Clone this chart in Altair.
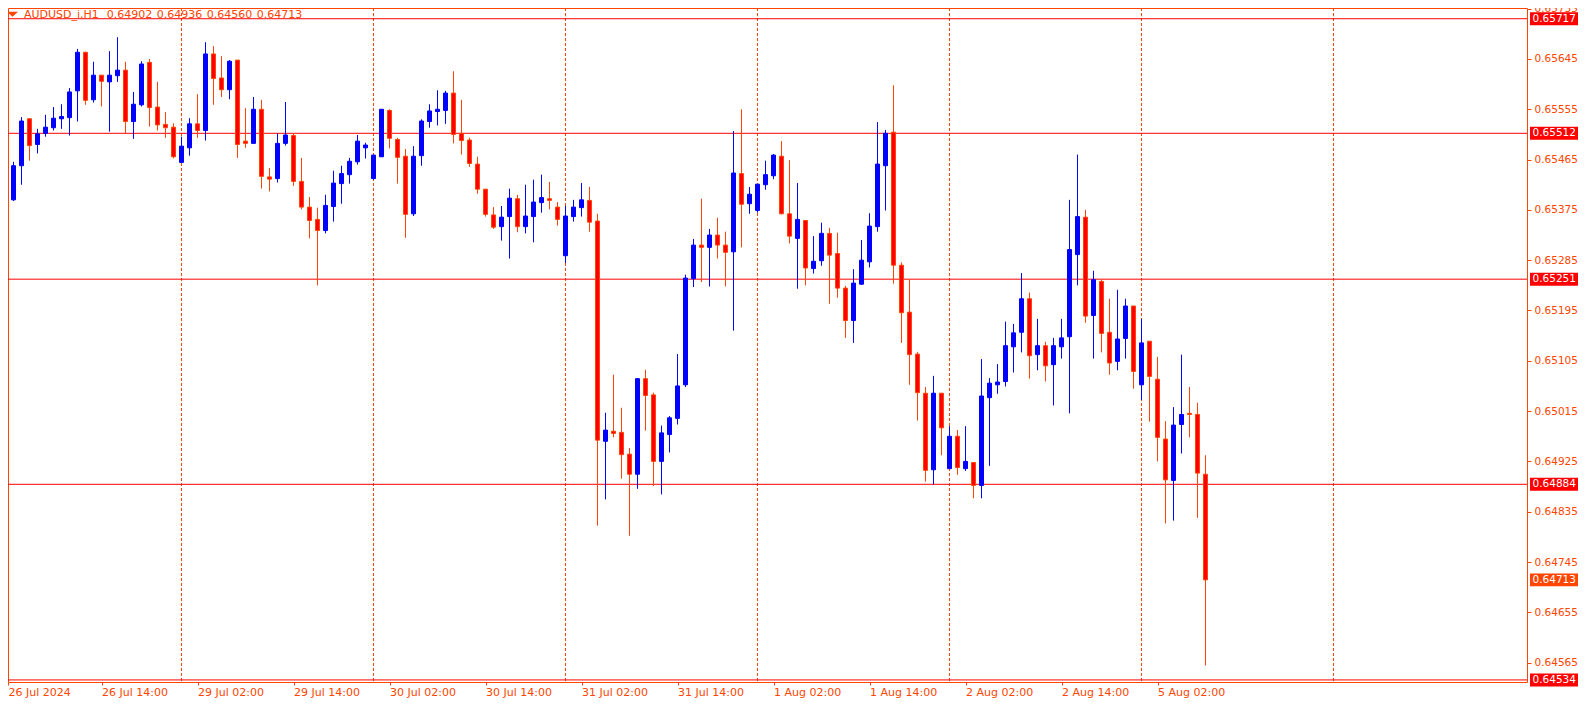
import json
import altair as alt
import pandas as pd

# ---------------- data ----------------
OPEN = [0.65347, 0.65393, 0.65454, 0.65538, 0.65492, 0.65512, 0.65522, 0.65538, 0.65540, 0.65588,
        0.65657, 0.65572, 0.65616, 0.65604, 0.65615, 0.65625, 0.65533, 0.65563, 0.65639, 0.65559,
        0.65528, 0.65523, 0.65460, 0.65486, 0.65529, 0.65517, 0.65654, 0.65611, 0.65590, 0.65643,
        0.65498, 0.65494, 0.65555, 0.65434, 0.65431, 0.65494, 0.65508, 0.65426, 0.65380, 0.65358,
        0.65338, 0.65381, 0.65422, 0.65438, 0.65461, 0.65486, 0.65431, 0.65470, 0.65553, 0.65501,
        0.65471, 0.65368, 0.65472, 0.65533, 0.65551, 0.65553, 0.65584, 0.65512, 0.65500, 0.65457,
        0.65412, 0.65366, 0.65345, 0.65363, 0.65395, 0.65345, 0.65363, 0.65388, 0.65395, 0.65380,
        0.65293, 0.65363, 0.65379, 0.65392, 0.65355, 0.64961, 0.64979, 0.64977, 0.64938, 0.64902,
        0.65073, 0.65044, 0.64925, 0.64973, 0.65002, 0.65062, 0.65252, 0.65312, 0.65308, 0.65330,
        0.65312, 0.65300, 0.65440, 0.65386, 0.65374, 0.65420, 0.65436, 0.65471, 0.65368, 0.65324,
        0.65356, 0.65270, 0.65284, 0.65333, 0.65297, 0.65235, 0.65177, 0.65242, 0.65282, 0.65345,
        0.65454, 0.65514, 0.65276, 0.65192, 0.65117, 0.65047, 0.64910, 0.65047, 0.64912, 0.64970,
        0.64912, 0.64923, 0.64882, 0.65039, 0.65062, 0.65068, 0.65130, 0.65156, 0.65216, 0.65116,
        0.65132, 0.65098, 0.65130, 0.65148, 0.65295, 0.65362, 0.65186, 0.65247, 0.65156, 0.65104,
        0.65145, 0.65203, 0.65062, 0.65140, 0.65072, 0.64965, 0.64891, 0.64991, 0.65011, 0.65009,
        0.64902]
HIGH = [0.65398, 0.65461, 0.65541, 0.65539, 0.65520, 0.65545, 0.65559, 0.65564, 0.65593, 0.65663,
        0.65658, 0.65640, 0.65616, 0.65659, 0.65684, 0.65640, 0.65586, 0.65641, 0.65645, 0.65604,
        0.65550, 0.65530, 0.65506, 0.65539, 0.65582, 0.65675, 0.65668, 0.65650, 0.65643, 0.65643,
        0.65557, 0.65577, 0.65572, 0.65450, 0.65512, 0.65568, 0.65512, 0.65468, 0.65398, 0.65379,
        0.65402, 0.65445, 0.65454, 0.65468, 0.65509, 0.65495, 0.65474, 0.65555, 0.65555, 0.65504,
        0.65484, 0.65489, 0.65537, 0.65564, 0.65589, 0.65588, 0.65623, 0.65572, 0.65504, 0.65470,
        0.65412, 0.65380, 0.65382, 0.65413, 0.65402, 0.65420, 0.65429, 0.65438, 0.65425, 0.65389,
        0.65382, 0.65393, 0.65423, 0.65416, 0.65368, 0.65012, 0.65080, 0.65021, 0.64949, 0.65074,
        0.65089, 0.65048, 0.64989, 0.65006, 0.65117, 0.65259, 0.65323, 0.65395, 0.65341, 0.65361,
        0.65336, 0.65516, 0.65555, 0.65416, 0.65421, 0.65463, 0.65475, 0.65498, 0.65464, 0.65423,
        0.65356, 0.65328, 0.65352, 0.65343, 0.65334, 0.65239, 0.65269, 0.65321, 0.65369, 0.65532,
        0.65518, 0.65598, 0.65281, 0.65251, 0.65121, 0.65058, 0.65078, 0.65047, 0.64988, 0.64981,
        0.64988, 0.64923, 0.65108, 0.65074, 0.65099, 0.65175, 0.65171, 0.65262, 0.65227, 0.65180,
        0.65139, 0.65146, 0.65180, 0.65393, 0.65474, 0.65375, 0.65266, 0.65251, 0.65216, 0.65232,
        0.65216, 0.65203, 0.65180, 0.65140, 0.65112, 0.64997, 0.65022, 0.65116, 0.65058, 0.65030,
        0.64936]
LOW = [0.65336, 0.65391, 0.65420, 0.65463, 0.65476, 0.65506, 0.65517, 0.65520, 0.65508, 0.65533,
       0.65563, 0.65567, 0.65560, 0.65515, 0.65604, 0.65512, 0.65502, 0.65560, 0.65524, 0.65517,
       0.65504, 0.65467, 0.65460, 0.65472, 0.65504, 0.65499, 0.65563, 0.65577, 0.65573, 0.65468,
       0.65486, 0.65494, 0.65413, 0.65408, 0.65424, 0.65490, 0.65418, 0.65376, 0.65324, 0.65240,
       0.65333, 0.65354, 0.65386, 0.65422, 0.65456, 0.65467, 0.65429, 0.65470, 0.65485, 0.65422,
       0.65325, 0.65364, 0.65454, 0.65522, 0.65526, 0.65529, 0.65494, 0.65474, 0.65452, 0.65404,
       0.65363, 0.65341, 0.65320, 0.65288, 0.65335, 0.65333, 0.65317, 0.65370, 0.65376, 0.65347,
       0.65280, 0.65354, 0.65363, 0.65336, 0.64810, 0.64857, 0.64968, 0.64894, 0.64792, 0.64876,
       0.64980, 0.64881, 0.64866, 0.64941, 0.64991, 0.65058, 0.65237, 0.65246, 0.65238, 0.65288,
       0.65238, 0.65159, 0.65308, 0.65368, 0.65370, 0.65411, 0.65430, 0.65367, 0.65315, 0.65234,
       0.65240, 0.65261, 0.65275, 0.65207, 0.65218, 0.65146, 0.65137, 0.65241, 0.65272, 0.65336,
       0.65374, 0.65243, 0.65137, 0.65062, 0.64998, 0.64889, 0.64884, 0.64936, 0.64912, 0.64901,
       0.64908, 0.64859, 0.64859, 0.64917, 0.65046, 0.65059, 0.65084, 0.65120, 0.65073, 0.65088,
       0.65068, 0.65025, 0.65109, 0.65011, 0.65240, 0.65173, 0.65109, 0.65120, 0.65080, 0.65088,
       0.65109, 0.65055, 0.65035, 0.64996, 0.64925, 0.64814, 0.64819, 0.64939, 0.64968, 0.64824,
       0.64560]
CLOSE = [0.65393, 0.65454, 0.65534, 0.65490, 0.65511, 0.65523, 0.65539, 0.65542, 0.65586, 0.65657,
         0.65571, 0.65616, 0.65605, 0.65616, 0.65625, 0.65533, 0.65564, 0.65636, 0.65558, 0.65527,
         0.65522, 0.65470, 0.65489, 0.65529, 0.65517, 0.65654, 0.65610, 0.65590, 0.65641, 0.65492,
         0.65494, 0.65555, 0.65435, 0.65430, 0.65494, 0.65509, 0.65426, 0.65380, 0.65356, 0.65338,
         0.65383, 0.65423, 0.65440, 0.65462, 0.65498, 0.65491, 0.65473, 0.65555, 0.65503, 0.65469,
         0.65367, 0.65471, 0.65534, 0.65552, 0.65555, 0.65584, 0.65510, 0.65499, 0.65458, 0.65412,
         0.65367, 0.65344, 0.65362, 0.65396, 0.65345, 0.65364, 0.65389, 0.65397, 0.65392, 0.65358,
         0.65364, 0.65380, 0.65393, 0.65353, 0.64963, 0.64981, 0.64975, 0.64937, 0.64902, 0.65073,
         0.65043, 0.64925, 0.64976, 0.65003, 0.65060, 0.65253, 0.65312, 0.65308, 0.65330, 0.65312,
         0.65299, 0.65441, 0.65385, 0.65403, 0.65421, 0.65438, 0.65473, 0.65368, 0.65328, 0.65358,
         0.65271, 0.65283, 0.65333, 0.65294, 0.65235, 0.65177, 0.65244, 0.65285, 0.65346, 0.65457,
         0.65512, 0.65276, 0.65191, 0.65116, 0.65048, 0.64909, 0.65047, 0.64985, 0.64970, 0.64914,
         0.64925, 0.64882, 0.65042, 0.65065, 0.65067, 0.65132, 0.65155, 0.65216, 0.65114, 0.65132,
         0.65096, 0.65132, 0.65146, 0.65304, 0.65363, 0.65185, 0.65250, 0.65154, 0.65101, 0.65144,
         0.65203, 0.65086, 0.65137, 0.65077, 0.64968, 0.64892, 0.64990, 0.65009, 0.65009, 0.64904,
         0.64713]

TIME_LABELS = ["26 Jul 2024", "26 Jul 14:00", "29 Jul 02:00", "29 Jul 14:00", "30 Jul 02:00",
               "30 Jul 14:00", "31 Jul 02:00", "31 Jul 14:00", "1 Aug 02:00", "1 Aug 14:00",
               "2 Aug 02:00", "2 Aug 14:00", "5 Aug 02:00"]
LABEL_STEP = 12
DAY_SEPARATORS = [22, 46, 70, 94, 118, 142, 166]
Y_TICKS = [0.65735, 0.65645, 0.65555, 0.65465, 0.65375, 0.65285, 0.65195, 0.65105,
           0.65015, 0.64925, 0.64835, 0.64745, 0.64655, 0.64565]
LEVELS = [0.65717, 0.65512, 0.65251, 0.64884, 0.64534]
LAST_PRICE = [0.64713]
TITLE_SYMBOL = "AUDUSD_i,H1"
TITLE_OHLC = ["0.64902", "0.64936", "0.64560", "0.64713"]

# ---------------- layout / style ----------------
W, H = 1519, 674
PAD_RIGHT, PAD_BOTTOM = 51, 16
X_DOMAIN = [0.3125, 0.3125 + W / 8]
Y_DOMAIN = [0.645303, 0.657362]
BOX_HALF = 0.000116
FONT = "DejaVu Sans"
ORANGE = "#FF4500"
RED = "#FF0000"
BLUE = "#0000FF"

df = pd.DataFrame({"i": range(len(OPEN)), "open": OPEN, "high": HIGH, "low": LOW, "close": CLOSE})
df["dir"] = ["up" if c >= o else "down" for o, c in zip(OPEN, CLOSE)]
seps = pd.DataFrame({"i": DAY_SEPARATORS})
levels = pd.DataFrame({"p": LEVELS})
last = pd.DataFrame({"p": LAST_PRICE})
one = pd.DataFrame({"k": [0]})

label_expr = f"{json.dumps(TIME_LABELS)}[round(datum.value / {LABEL_STEP})]"
x_vals = [X_DOMAIN[0]] + [LABEL_STEP * k for k in range(1, len(TIME_LABELS))]

XSCALE = alt.Scale(domain=X_DOMAIN, nice=False, zero=False, padding=0)
YSCALE = alt.Scale(domain=Y_DOMAIN, nice=False, zero=False, padding=0)
XAXIS = alt.Axis(values=x_vals, labelExpr=label_expr, title=None, grid=False, domain=False,
                 labelAlign="left", labelAngle=0, labelBaseline="top", labelFlush=False,
                 labelOverlap=False, labelPadding=1, tickSize=3, tickColor=ORANGE,
                 labelColor=ORANGE, labelFont=FONT, labelFontSize=11, zindex=0)
YAXIS = alt.Axis(orient="right", values=Y_TICKS, format=".5f", title=None, grid=False,
                 domain=False, tickSize=4, tickColor=ORANGE, labelColor=ORANGE,
                 labelFont=FONT, labelFontSize=10.5, labelPadding=3, labelOverlap=False,
                 labelFlush=False, zindex=0)


def xq(f):
    return alt.X(f"{f}:Q", scale=XSCALE, axis=XAXIS)


def yq(f):
    return alt.Y(f"{f}:Q", scale=YSCALE, axis=YAXIS)


dir_scale_line = alt.Scale(domain=["up", "down"], range=[BLUE, ORANGE])
dir_scale_fill = alt.Scale(domain=["up", "down"], range=[BLUE, RED])

sep_layer = alt.Chart(seps).mark_rule(color=ORANGE, strokeWidth=1, strokeDash=[3, 2]).encode(x=xq("i"))
level_layer = alt.Chart(levels).mark_rule(color=RED, strokeWidth=1).encode(y=yq("p"))

wicks = alt.Chart(df).mark_rule(strokeWidth=1).encode(
    x=xq("i"), y=yq("low"), y2="high",
    color=alt.Color("dir:N", scale=dir_scale_line, legend=None))
bodies = alt.Chart(df).mark_bar(size=4, strokeWidth=1).encode(
    x=xq("i"), y=yq("open"), y2="close",
    fill=alt.Fill("dir:N", scale=dir_scale_fill, legend=None),
    stroke=alt.Stroke("dir:N", scale=dir_scale_line, legend=None))


def price_box(data, color):
    rect = alt.Chart(data).transform_calculate(
        top=f"datum.p + {BOX_HALF}", bot=f"datum.p - {BOX_HALF}"
    ).mark_rect(color=color).encode(
        x=alt.value(W + 3), x2=alt.value(W + PAD_RIGHT), y=yq("top"), y2=alt.Y2("bot:Q"))
    txt = alt.Chart(data).mark_text(align="left", baseline="middle", color="white",
                                    font=FONT, fontSize=10.5).encode(
        x=alt.value(W + 5.5), y=yq("p"), text=alt.Text("p:Q", format=".5f"))
    return [rect, txt]


title_layers = [
    alt.Chart(one).mark_point(shape="M-1,-0.45L1,-0.45L0,0.45Z", filled=True, size=120,
                              color=ORANGE, opacity=1).encode(x=alt.value(4.5), y=alt.value(6.2)),
    alt.Chart(one).mark_text(text=TITLE_SYMBOL, align="left", baseline="alphabetic",
                             color=ORANGE, font=FONT, fontSize=11).encode(
        x=alt.value(16), y=alt.value(10.3)),
]
for k, s in enumerate(TITLE_OHLC):
    title_layers.append(
        alt.Chart(one).mark_text(text=s, align="left", baseline="alphabetic", color=ORANGE,
                                 font=FONT, fontSize=11).encode(
            x=alt.value(98.7 + 50 * k), y=alt.value(10.3)))

layers = [sep_layer, level_layer, wicks, bodies]
layers += price_box(levels, RED)
layers += price_box(last, ORANGE)
layers += title_layers

chart = alt.layer(*layers).properties(
    width=W, height=H,
    autosize=alt.AutoSizeParams(type="none"),
    padding={"left": 0, "top": 0, "right": PAD_RIGHT, "bottom": PAD_BOTTOM},
    background="white",
).configure_view(stroke=ORANGE, strokeWidth=1)

chart.save("out.html", embed_options={"renderer": "svg", "actions": False})
